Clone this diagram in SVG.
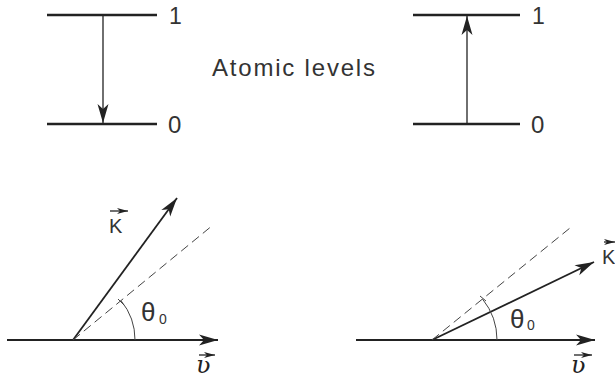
<svg xmlns="http://www.w3.org/2000/svg" width="615" height="381" viewBox="0 0 615 381">
<style>
.lvl{stroke:#222;stroke-width:2.6;fill:none}
.thin{stroke:#222;stroke-width:1.3;fill:none}
.vec{stroke:#222;stroke-width:1.8;fill:none}
.dash{stroke:#444;stroke-width:1;fill:none;stroke-dasharray:9,5}
.arc{stroke:#444;stroke-width:1;fill:none}
.t{font-family:"Liberation Sans",Arial,sans-serif;fill:#333}
.v{font-family:"DejaVu Serif","Liberation Serif",serif;font-style:italic;fill:#222}
</style>
<defs>
<marker id="ah" markerUnits="userSpaceOnUse" markerWidth="24" markerHeight="14" viewBox="-20 -7 22 14" refX="0" refY="0" orient="auto">
<path d="M0,0 L-19,-5.5 L-14,0 L-19,5.5 Z" fill="#222"/>
</marker>
<marker id="ahs" markerUnits="userSpaceOnUse" markerWidth="16" markerHeight="12" viewBox="-12 -6 14 12" refX="0" refY="0" orient="auto">
<path d="M0,0 L-11,-3 L-8,0 L-11,3 Z" fill="#222"/>
</marker>
</defs>

<g id="levels-left">
<line class="lvl" x1="47" y1="15" x2="157" y2="15"/>
<line class="lvl" x1="47" y1="124" x2="157" y2="124"/>
<text class="t" x="169" y="24" font-size="23">1</text>
<text class="t" x="168" y="133" font-size="24">0</text>
</g>
<g id="levels-right">
<line class="lvl" x1="413" y1="15" x2="520" y2="15"/>
<line class="lvl" x1="413" y1="124" x2="520" y2="124"/>
<text class="t" x="532" y="24" font-size="23">1</text>
<text class="t" x="531" y="133" font-size="24">0</text>
</g>
<g id="title">
<text class="t" x="212" y="76" font-size="24" textLength="163" lengthAdjust="spacing">Atomic levels</text>
</g>

<g id="connectors">
<line class="thin" x1="103" y1="16" x2="103" y2="123" marker-end="url(#ah)"/>
<line class="thin" x1="467" y1="123" x2="467" y2="16" marker-end="url(#ah)"/>
<line class="vec" x1="7" y1="340" x2="218" y2="340" marker-end="url(#ah)"/>
<line class="vec" x1="73" y1="340" x2="177" y2="198" marker-end="url(#ah)"/>
<line class="dash" x1="73" y1="340" x2="213" y2="225"/>
<path class="arc" d="M135,340 A62,62 0 0 0 121,300.6"/>
<line class="arc" x1="118" y1="299" x2="124" y2="305"/>
<line class="vec" x1="356" y1="340" x2="595" y2="340" marker-end="url(#ah)"/>
<line class="vec" x1="432" y1="340" x2="594" y2="262" marker-end="url(#ah)"/>
<line class="dash" x1="432" y1="340" x2="570" y2="228"/>
<path class="arc" d="M497,340 A65,65 0 0 0 482.5,299"/>
<line class="arc" x1="480" y1="296" x2="486" y2="301"/>
<line class="thin" x1="110" y1="211" x2="128" y2="211" marker-end="url(#ahs)"/>
<line class="thin" x1="604" y1="242" x2="615" y2="242" marker-end="url(#ahs)"/>
<line class="thin" x1="199" y1="355" x2="215" y2="355" marker-end="url(#ahs)"/>
<line class="thin" x1="574" y1="355" x2="592" y2="355" marker-end="url(#ahs)"/>
</g>

<g id="labels-left">
<text class="t" x="109" y="233" font-size="20">K</text>
<text class="t" x="141" y="321" font-size="26">θ</text>
<text class="t" x="159" y="324" font-size="14">0</text>
<text class="v" x="196" y="373" font-size="24">ʋ</text>
</g>
<g id="labels-right">
<text class="t" x="602" y="264" font-size="20">K</text>
<text class="t" x="510" y="328" font-size="26">θ</text>
<text class="t" x="527" y="330" font-size="14">0</text>
<text class="v" x="571" y="373" font-size="24">ʋ</text>
</g>
</svg>
